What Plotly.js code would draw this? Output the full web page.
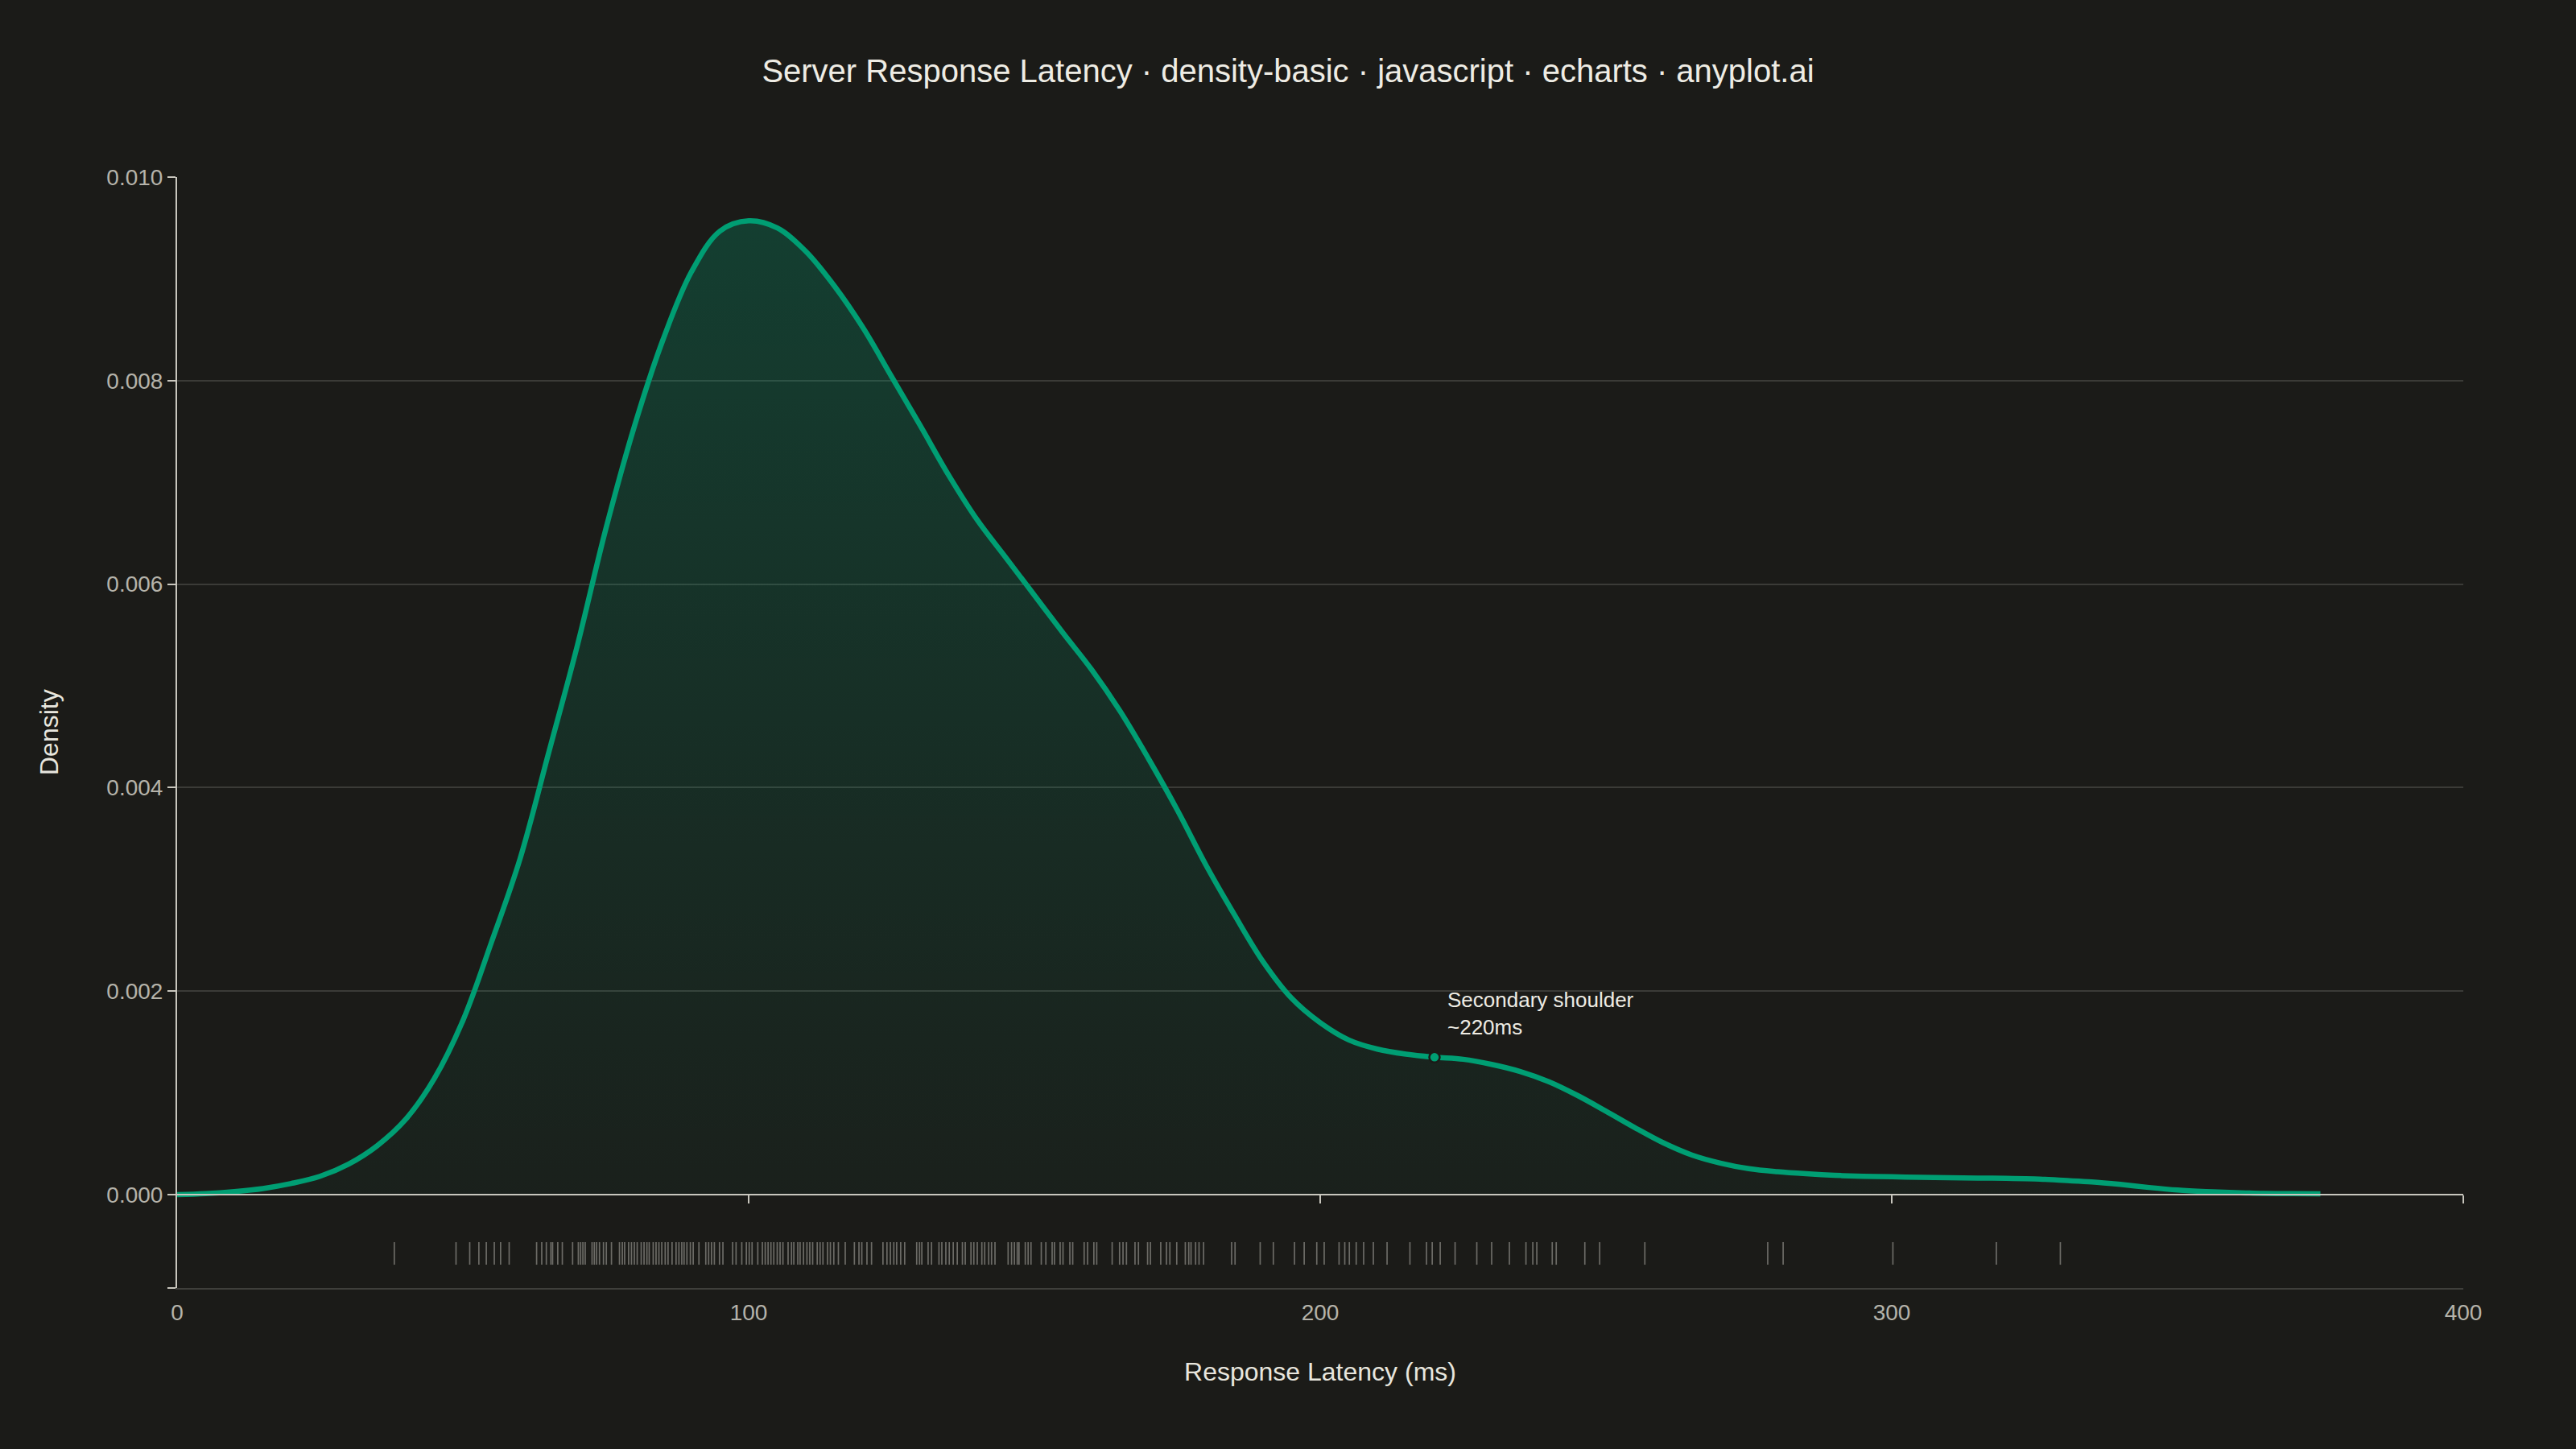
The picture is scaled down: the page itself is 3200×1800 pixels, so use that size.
<!DOCTYPE html>
<html>
<head>
<meta charset="utf-8">
<script src="https://cdn.plot.ly/plotly-3.0.1.min.js"></script>
<style>
  html, body { margin: 0; padding: 0; background: #1b1b18; }
  #plotDiv { width: 3200px; height: 1800px; }
</style>
</head>
<body>
<div id="plotDiv"></div>
<script>
// KDE curve (ms -> density)
var curveX = [0, 5, 10, 15, 20, 25, 30, 35, 40, 45, 50, 55, 60, 65, 70, 75, 80, 85, 90, 95,
  100, 105, 110, 115, 120, 125, 130, 135, 140, 145, 150, 155, 160, 165, 170, 175, 180, 185, 190, 195,
  200, 205, 210, 215, 220, 225, 230, 235, 240, 245, 250, 255, 260, 265, 270, 275, 280, 285, 290, 295,
  300, 305, 310, 315, 320, 325, 330, 335, 340, 345, 350, 355, 360, 365, 370, 375];
var curveY = [0.00000, 0.00001, 0.00003, 0.00006, 0.00011, 0.00018, 0.00030, 0.00048, 0.00074, 0.00114,
  0.00171, 0.00248, 0.00330, 0.00434, 0.00539, 0.00654, 0.00755, 0.00840, 0.00907, 0.00947,
  0.00957, 0.00950, 0.00927, 0.00893, 0.00852, 0.00804, 0.00756, 0.00707, 0.00663, 0.00626,
  0.00589, 0.00552, 0.00516, 0.00475, 0.00428, 0.00378, 0.00324, 0.00275, 0.00229, 0.00193,
  0.00169, 0.00152, 0.00143, 0.00138, 0.00135, 0.00133, 0.00128, 0.00121, 0.00111, 0.000975,
  0.00082, 0.00066, 0.00051, 0.00039, 0.00031, 0.000255, 0.000225, 0.000205, 0.00019, 0.00018,
  0.000175, 0.00017, 0.000166, 0.000163, 0.00016, 0.000155, 0.00014, 0.000125, 0.00010, 0.00007,
  0.000045, 0.00003, 0.00002, 0.000012, 0.00001, 0.000008];

// individual latency samples (rug)
var samples = [38.0, 48.8, 51.2, 52.8, 54.1, 55.5, 56.6, 58.1,
  62.9, 63.8, 64.6, 65.4, 65.7, 66.6, 67.4, 69.2, 70.2, 70.6, 71.0, 71.4, 72.6, 73.0, 73.4, 73.9,
  74.6, 75.1, 76.0, 77.4, 77.9, 78.3, 79.0, 79.5, 80.0, 80.5, 81.2, 81.7, 82.2, 82.6, 83.3, 83.8,
  84.3, 84.8, 85.4, 85.9, 86.6, 87.3, 87.8, 88.3, 88.7, 89.2, 89.8, 90.3, 91.3, 92.5, 93.0, 93.5,
  94.0, 94.9, 95.5, 97.2, 97.8, 98.8, 99.6, 100.1, 100.6, 101.6, 102.4, 102.9, 103.4, 103.9, 104.4,
  105.0, 105.5, 106.0, 106.9, 107.5, 107.9, 108.6, 109.0, 109.6, 110.2, 110.7, 111.2, 112.0, 112.5,
  113.0, 113.8, 114.3, 114.9, 115.7, 116.9, 118.5, 119.3, 119.8, 120.7, 121.5, 123.5, 124.2, 124.8,
  125.4, 125.9, 126.6, 127.3, 129.4, 129.9, 130.3, 131.4, 132.0, 133.3, 133.8, 134.5, 135.1, 135.8,
  136.5, 137.4, 137.9, 138.9, 139.4, 140.0, 140.8, 141.3, 142.0, 142.5, 143.1, 145.4, 146.0, 146.5,
  147.0, 147.3, 148.4, 148.9, 149.4, 151.2, 152.0, 153.1, 153.5, 154.5, 155.0, 156.2, 156.7, 158.7,
  159.3, 160.4, 160.9, 163.6, 164.9, 165.5, 166.1, 167.6, 168.2, 169.8, 170.3, 172.1, 173.1, 173.7,
  174.9, 176.4, 177.0, 177.4, 178.2, 178.8, 179.6, 184.5, 185.1, 189.5, 191.8, 195.5, 197.2, 199.4,
  200.7, 203.3, 204.3, 205.1, 206.3, 207.6, 209.3, 211.7, 215.7, 218.6, 219.6, 221.0, 223.6, 227.4,
  230.0, 233.1, 236.0, 237.2, 237.9, 240.6, 241.3, 246.3, 248.9, 256.8, 278.3, 281.0, 300.2, 318.3,
  329.5];

var shoulderX = [220];
var shoulderY = [0.00135];

var xTicks = [0, 100, 200, 300, 400];
var yTicks = [0, 0.002, 0.004, 0.006, 0.008, 0.010];

var bg = '#1b1b18';
var green = '#009e73';
var font = 'Liberation Sans, Arial, sans-serif';

// plot geometry (paper fractions)
var rugFrac = 0.0804;
var yMin = -0.00004, yMax = 0.010;
var zeroPos = rugFrac + (1 - rugFrac) * (0 - yMin) / (yMax - yMin);
var rugMin = -0.387, rugMax = 0.613;

var data = [
  {
    type: 'scatter',
    mode: 'lines',
    x: curveX,
    y: curveY,
    xaxis: 'x',
    yaxis: 'y',
    line: { color: green, width: 6.5, shape: 'spline', smoothing: 1 },
    fill: 'tozeroy',
    fillgradient: {
      type: 'vertical',
      colorscale: [[0, 'rgba(0,158,115,0.04)'], [1, 'rgba(0,158,115,0.27)']]
    },
    hoverinfo: 'skip'
  },
  {
    type: 'scatter',
    mode: 'markers',
    x: shoulderX,
    y: shoulderY,
    xaxis: 'x',
    yaxis: 'y',
    marker: { color: green, size: 13, line: { color: bg, width: 2.5 } },
    hoverinfo: 'skip'
  },
  {
    type: 'scatter',
    mode: 'markers',
    x: samples,
    y: samples.map(function () { return 0; }),
    xaxis: 'x2',
    yaxis: 'y2',
    marker: {
      symbol: 'line-ns',
      size: 20,
      line: { color: 'rgba(222,220,212,0.42)', width: 1.7 }
    },
    hoverinfo: 'skip'
  }
];

var layout = {
  width: 3200,
  height: 1800,
  paper_bgcolor: bg,
  plot_bgcolor: bg,
  showlegend: false,
  margin: { l: 220, r: 140, t: 220, b: 200 },
  font: { family: font, color: '#b5b3aa', size: 28 },
  title: {
    text: 'Server Response Latency · density-basic · javascript · echarts · anyplot.ai',
    font: { family: font, size: 40, color: '#eeece4' },
    x: 0.5,
    xanchor: 'center',
    y: 1 - 88 / 1800,
    yanchor: 'middle'
  },
  xaxis: {
    domain: [0, 1],
    range: [0, 400],
    anchor: 'free',
    position: zeroPos,
    showgrid: false,
    zeroline: false,
    showline: true,
    linecolor: '#c8c6bd',
    linewidth: 2,
    ticks: 'outside',
    ticklen: 10,
    tickwidth: 2,
    tickcolor: '#c8c6bd',
    tickvals: xTicks.slice(1),
    showticklabels: false
  },
  yaxis: {
    domain: [rugFrac, 1],
    range: [yMin, yMax],
    anchor: 'x',
    tickvals: yTicks,
    tickformat: '.3f',
    showgrid: true,
    gridcolor: '#3b3b37',
    gridwidth: 2,
    zeroline: false,
    showline: true,
    linecolor: '#c8c6bd',
    linewidth: 2,
    ticks: 'outside',
    ticklen: 10,
    tickwidth: 2,
    tickcolor: '#c8c6bd',
    tickfont: { size: 28, color: '#b5b3aa' }
  },
  xaxis2: {
    domain: [0, 1],
    range: [0, 400],
    anchor: 'y2',
    showgrid: false,
    zeroline: false,
    showline: true,
    linecolor: '#3f3f3b',
    linewidth: 2,
    ticks: '',
    tickvals: xTicks,
    ticklabelstandoff: 4,
    tickfont: { size: 28, color: '#b5b3aa' },
    title: {
      text: 'Response Latency (ms)',
      font: { size: 32, color: '#e8e6de' },
      standoff: 48
    }
  },
  yaxis2: {
    domain: [0, rugFrac],
    range: [rugMin, rugMax],
    anchor: 'x2',
    showgrid: false,
    zeroline: false,
    showline: true,
    linecolor: '#c8c6bd',
    linewidth: 2,
    ticks: 'outside',
    ticklen: 10,
    tickwidth: 2,
    tickcolor: '#c8c6bd',
    tickvals: [rugMin],
    ticktext: ['']
  },
  annotations: [
    {
      x: shoulderX[0],
      y: shoulderY[0],
      xref: 'x',
      yref: 'y',
      text: 'Secondary shoulder<br>~220ms',
      showarrow: false,
      align: 'left',
      xanchor: 'left',
      yanchor: 'bottom',
      xshift: 14,
      yshift: 20,
      font: { family: font, size: 26, color: '#eeece4' }
    },
    {
      text: 'Density',
      xref: 'paper',
      yref: 'paper',
      x: 0,
      xshift: -159,
      y: 0.5,
      xanchor: 'center',
      yanchor: 'middle',
      textangle: -90,
      showarrow: false,
      font: { family: font, size: 32, color: '#e8e6de' }
    }
  ]
};

Plotly.newPlot('plotDiv', data, layout, { staticPlot: true, displayModeBar: false });
</script>
</body>
</html>
